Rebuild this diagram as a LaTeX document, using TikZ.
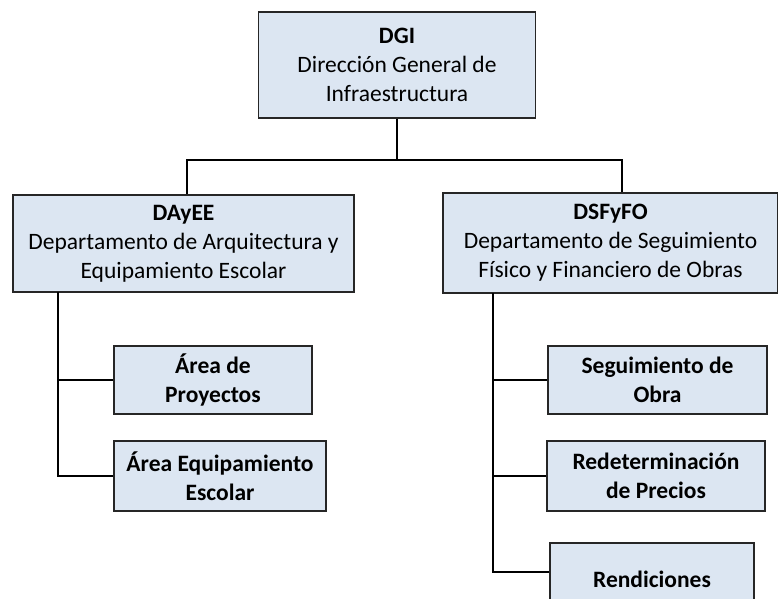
\documentclass[tikz,border=0pt]{standalone}
\usepackage{fontspec}
\setmainfont{Carlito}
\definecolor{boxfill}{HTML}{DCE6F2}
\begin{document}
\begin{tikzpicture}[x=1pt,y=1pt,
  unit/.style={draw=black!85,line width=1.4pt,fill=boxfill,align=center,
    inner sep=0pt,font=\fontsize{23.5}{29}\selectfont},
  area/.style={unit,font=\fontsize{23.5}{29.5}\selectfont\bfseries},
  link/.style={line width=1.4pt}]
  \useasboundingbox (0,0) rectangle (778,-598);
  \node[unit,minimum width=277,minimum height=106] (dgi) at (397,-65)
    {\textbf{DGI}\\Dirección General de\\Infraestructura};
  \node[unit,minimum width=341,minimum height=97] (dayee) at (183.5,-243.5)
    {\textbf{DAyEE}\\Departamento de Arquitectura y\\Equipamiento Escolar};
  \node[unit,minimum width=335,minimum height=100] (dsfyfo) at (610.5,-243)
    {\textbf{DSFyFO}\\Departamento de Seguimiento\\Físico y Financiero de Obras};
  \node[area,minimum width=198,minimum height=68] (proy) at (213,-380)
    {Área de\\Proyectos};
  \node[area,minimum width=212,minimum height=70] (equip) at (220,-476)
    {Área Equipamiento\\Escolar};
  \node[area,minimum width=219,minimum height=68] (seg) at (657.5,-380)
    {Seguimiento de\\Obra};
  \node[area,minimum width=218,minimum height=70] (redet) at (656,-476)
    {Redeterminación\\de Precios};
  \node[area,minimum width=204,minimum height=72] (rend) at (652,-579)
    {Rendiciones};
  \coordinate (bus) at (397,-160);
  \coordinate (lt) at (58,-292);
  \coordinate (rt) at (493,-293);
  \draw[link] (dgi.south) -- (bus);
  \draw[link] ([xshift=3.5pt]dayee.north) |- (bus) -| ([xshift=11.5pt]dsfyfo.north);
  \draw[link] (lt) |- (equip.west);
  \draw[link] (proy.west) -- (proy.west -| lt);
  \draw[link] (rt) |- ([yshift=7pt]rend.west);
  \draw[link] (seg.west) -- (seg.west -| rt);
  \draw[link] (redet.west) -- (redet.west -| rt);
\end{tikzpicture}
\end{document}
